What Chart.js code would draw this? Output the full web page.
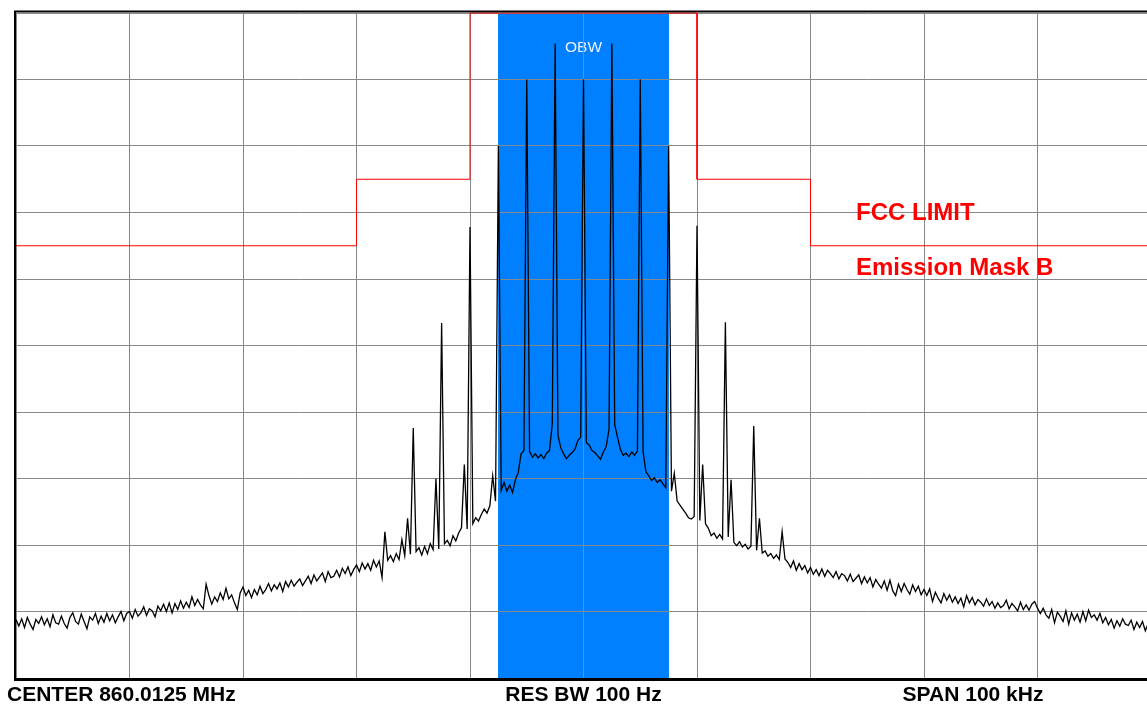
<!DOCTYPE html>
<html lang="en">
<head>
<meta charset="UTF-8" />
<title>Emission Mask B</title>
<script src="https://cdn.jsdelivr.net/npm/chart.js@4.4.1/dist/chart.umd.min.js"></script>
<style>
  html, body { margin: 0; padding: 0; overflow: hidden; background: #fff; }
  #wrap { position: relative; width: 1152px; height: 706px; }
</style>
</head>
<body>
<div id="wrap"><canvas id="grafico"></canvas></div>
<script>
  // sweep: -50 .. +50 kHz around center, one trace point every 0.25 kHz
  const traceStartKHz = -50;
  const traceStepKHz = 0.25;
  // levels in dB (10 dB/div, top of screen = 0)
  const traceLevels = [
    -91.2, -92.2, -91.1, -92.4,  -90.9, -91.9, -92.7, -91.2,  -91.8, -90.8, -92.0, -91.1,
    -92.3, -90.5, -91.7, -91.9,  -90.7, -91.8, -92.5, -90.9,  -90.2, -91.5, -91.9, -90.4,
    -91.5, -92.6, -90.8, -91.3,  -90.3, -91.8, -90.7, -91.6,  -90.3, -91.4, -90.5, -91.7,
    -90.8, -90.0, -91.4, -90.3,  -90.0, -91.0, -89.7, -90.7,  -90.2, -89.3, -90.6, -89.6,
    -89.9, -90.8, -89.2, -89.9,  -88.9, -90.0, -88.7, -90.2,  -88.8, -89.7, -88.4, -89.5,
    -88.6, -89.4, -87.8, -89.1,  -88.2, -89.0, -89.6, -85.9,  -87.6, -88.9, -87.8, -88.5,
    -87.2, -88.2, -86.5, -88.1,  -87.5, -88.7, -89.7, -87.2,  -86.3, -87.6, -86.8, -87.9,
    -86.7, -87.5, -86.2, -87.3,  -86.7, -85.8, -86.9, -86.0,  -86.6, -85.7, -87.0, -85.5,
    -86.3, -85.3, -86.2, -85.6,  -85.1, -86.1, -85.4, -84.7,  -85.8, -84.5, -85.4, -84.8,
    -84.2, -85.5, -84.0, -84.9,  -84.7, -83.8, -84.8, -83.5,  -84.3, -83.3, -84.6, -83.7,
    -83.0, -84.0, -82.7, -83.6,  -82.8, -83.8, -82.3, -83.3,  -82.4, -84.9, -78.0, -82.3,
    -81.6, -82.5, -81.3, -82.2,  -79.2, -81.6, -76.0, -81.4,  -62.4, -81.0, -80.4, -81.5,
    -80.2, -81.3, -79.8, -80.7,  -70.0, -80.6, -46.6, -79.8,  -79.3, -80.1, -78.6, -79.4,
    -78.2, -77.4, -67.9, -77.6,  -32.2, -76.8, -75.9, -76.4,  -75.4, -74.6, -75.2, -74.1,
    -69.6, -73.4, -20.0, -71.8,  -70.6, -71.9, -71.0, -72.1,  -70.2, -69.1, -66.3, -65.8,
    -10.0, -65.9, -66.8, -66.3,  -66.9, -66.4, -67.0, -66.2,  -65.8, -61.8, -4.6, -63.5,
    -65.4, -66.3, -67.0, -66.5,  -66.1, -65.6, -64.3, -63.8,  -10.0, -64.6, -65.0, -65.8,
    -66.1, -66.6, -67.1, -66.0,  -65.2, -62.6, -4.6, -61.9,  -63.8, -65.6, -66.5, -66.2,
    -66.7, -66.0, -66.5, -65.9,  -10.0, -66.0, -69.0, -69.6,  -70.3, -69.9, -70.6, -70.2,
    -70.8, -71.4, -20.0, -71.9,  -69.2, -73.4, -74.0, -74.6,  -75.2, -75.9, -76.1, -75.7,
    -32.0, -76.3, -67.9, -76.8,  -77.5, -78.6, -78.2, -79.0,  -78.4, -79.1, -46.5, -78.8,
    -70.2, -79.6, -80.1, -79.5,  -80.3, -79.9, -80.6, -80.2,  -62.1, -80.8, -76.0, -81.2,
    -80.9, -81.7, -81.3, -82.0,  -81.5, -82.2, -78.0, -82.1,  -82.6, -83.4, -82.4, -83.8,
    -82.8, -83.7, -83.1, -84.2,  -83.4, -84.4, -83.7, -84.6,  -83.6, -84.7, -83.8, -84.3,
    -84.9, -84.0, -85.1, -84.3,  -84.6, -85.4, -84.4, -85.5,  -85.0, -84.5, -85.8, -84.8,
    -85.7, -84.9, -86.3, -85.2,  -85.9, -86.5, -85.4, -86.8,  -85.3, -86.9, -87.6, -85.9,
    -87.0, -85.8, -86.7, -87.4,  -86.0, -87.0, -86.2, -87.5,  -86.7, -87.6, -86.6, -88.5,
    -87.1, -88.0, -88.7, -87.3,  -88.3, -87.5, -88.6, -87.8,  -88.8, -88.0, -89.3, -87.6,
    -88.7, -87.9, -89.0, -88.2,  -88.6, -89.2, -88.1, -89.1,  -88.5, -89.5, -88.7, -89.4,
    -89.1, -88.3, -89.6, -88.8,  -89.3, -89.9, -88.6, -89.7,  -89.0, -89.8, -88.9, -88.5,
    -89.5, -90.3, -89.5, -90.5,  -91.0, -89.7, -91.7, -90.1,  -90.7, -91.5, -89.9, -91.9,
    -90.2, -91.3, -90.4, -91.6,  -90.0, -91.4, -89.8, -90.9,  -90.5, -91.3, -90.3, -91.7,
    -90.9, -92.0, -91.2, -92.5,  -91.4, -92.2, -91.1, -91.9,  -92.1, -91.3, -92.7, -91.6,
    -92.4, -91.5, -92.9, -91.8,
    -91.5
  ];

  // FCC emission mask B (kHz offset, dB)
  const maskFreqs  = [-50, -20, -20, -10, -10, 10, 10, 20, 20, 50];
  const maskLevels = [-35, -35, -25, -25, 0, 0, -25, -25, -35, -35];

  // occupied bandwidth marker
  const obwStartKHz = -7.53;
  const obwEndKHz = 7.53;

  const footerLabels = ["CENTER 860.0125 MHz", "RES BW 100 Hz", "SPAN 100 kHz"];
  const maskLabels = ["FCC LIMIT", "Emission Mask B"];

  const tracePoints = traceLevels.map((v, i) => ({ x: traceStartKHz + i * traceStepKHz, y: v }));
  const maskPoints = maskFreqs.map((f, i) => ({ x: f, y: maskLevels[i] }));

  const fundo = {
    id: "fundo",
    beforeDraw(chart) {
      const { ctx, chartArea, scales } = chart;
      ctx.save();
      ctx.fillStyle = "#fff";
      ctx.fillRect(0, 0, chart.width, chart.height);
      const x0 = scales.x.getPixelForValue(obwStartKHz);
      const x1 = scales.x.getPixelForValue(obwEndKHz);
      ctx.fillStyle = "#0080ff";
      ctx.fillRect(x0, chartArea.top, x1 - x0, chartArea.bottom - chartArea.top);
      ctx.fillStyle = "#eaf2ff";
      ctx.font = "15.5px 'Liberation Sans', Arial, sans-serif";
      ctx.textAlign = "center";
      ctx.fillText("OBW", (x0 + x1) / 2, 52);
      ctx.restore();
    },
  };

  const moldura = {
    id: "moldura",
    afterDraw(chart) {
      const { ctx, scales } = chart;
      ctx.save();
      ctx.strokeStyle = "#000";
      ctx.lineWidth = 2;
      ctx.beginPath();
      ctx.moveTo(14.5, 11.5);
      ctx.lineTo(chart.width, 11.5);
      ctx.moveTo(15, 10.5);
      ctx.lineTo(15, 681);
      ctx.stroke();
      ctx.lineWidth = 3;
      ctx.beginPath();
      ctx.moveTo(14, 679.5);
      ctx.lineTo(chart.width, 679.5);
      ctx.stroke();

      ctx.fillStyle = "#000";
      ctx.font = "bold 21px 'Liberation Sans', Arial, sans-serif";
      ctx.textAlign = "left";
      ctx.fillText(footerLabels[0], 7, 701);
      ctx.textAlign = "center";
      ctx.fillText(footerLabels[1], scales.x.getPixelForValue(0), 701);
      ctx.fillText(footerLabels[2], 973, 701);

      ctx.fillStyle = "#ff0000";
      ctx.font = "bold 24px 'Liberation Sans', Arial, sans-serif";
      ctx.textAlign = "left";
      ctx.fillText(maskLabels[0], 856, 220);
      ctx.fillText(maskLabels[1], 856, 275);
      ctx.restore();
    },
  };

  const grade = { color: "#888888", lineWidth: 1, drawTicks: false };

  new Chart(document.getElementById("grafico"), {
    type: "line",
    data: {
      datasets: [
        {
          label: "Trace",
          data: tracePoints,
          borderColor: "#000",
          borderWidth: 1.3,
          pointRadius: 0,
          tension: 0,
        },
        {
          label: "FCC limit",
          data: maskPoints,
          borderColor: "#ff0000",
          borderWidth: 1,
          pointRadius: 0,
          tension: 0,
          clip: false,
        },
      ],
    },
    options: {
      responsive: true,
      maintainAspectRatio: false,
      animation: false,
      events: [],
      layout: { padding: { left: 16, top: 13, right: 1, bottom: 28 } },
      plugins: { legend: { display: false }, tooltip: { enabled: false } },
      scales: {
        x: {
          type: "linear",
          min: -50,
          max: 50,
          ticks: { display: false, stepSize: 10 },
          grid: grade,
          border: { display: false },
        },
        y: {
          min: -100,
          max: 0,
          ticks: { display: false, stepSize: 10 },
          grid: grade,
          border: { display: false },
        },
      },
    },
    plugins: [fundo, moldura],
  });
</script>
</body>
</html>
